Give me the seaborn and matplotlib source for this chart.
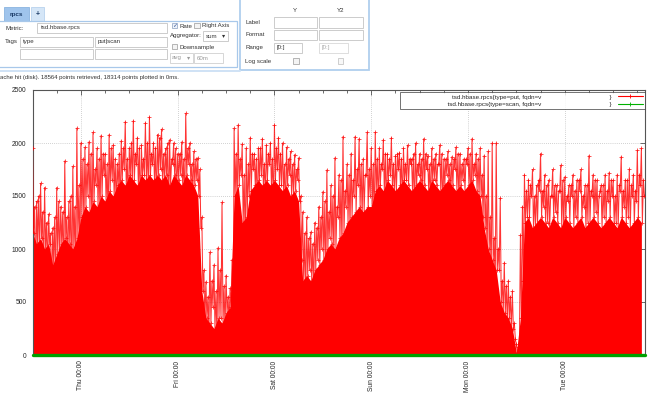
import numpy as np
import pandas as pd
import matplotlib
matplotlib.use("Agg")
import matplotlib.pyplot as plt
import seaborn as sns
from matplotlib.patches import Rectangle
from matplotlib.lines import Line2D

# ---------------- data (hourly samples starting Wed 12:00) ----------------
hours = list(range(152))

# spike tops on the hour
put_peaks = (
    [1950, 1450, 1620, 1580, 1330, 1200, 1580, 1400, 1830, 1450, 1780, 2140]
    + [2000, 1960, 2010, 2100, 1950, 2070, 1900, 2080, 1980, 1800,
       2020, 2200, 1950, 2210, 2050, 1980, 2190, 2245, 2000, 2080,
       2130, 1950, 2030, 2000, 1900, 2010, 2280, 2000, 1920, 1860]
    + [1300, 690, 970, 850, 1010, 1440, 750, 630]
    + [2140, 2170, 1990, 1950, 2050, 1900, 1950, 2040, 1980, 2000,
       2170, 2050, 2000, 1960, 1920, 1890, 1860]
    + [1350, 1300, 1160, 1250, 1400, 1540, 1745, 1600, 1860, 1700,
       2060, 1800, 1900, 2060, 2040, 1850, 2100, 1950]
    + [2100, 1950, 2030, 1900, 2050, 1880, 1910, 1950, 1980, 1850,
       2000, 1900, 2040, 1880, 1950, 1900, 1980, 1850, 1920, 1870,
       1960, 1900, 1850, 1950, 2040, 1900, 1950, 1880, 1920, 2000]
    + [2000, 1480, 870, 700, 600, 100, 1130]
    + [1700, 1650, 1750, 1600, 1900, 1700, 1650, 1750, 1600, 1790,
       1680, 1600, 1700, 1650, 1750, 1600, 1880, 1700, 1650, 1600,
       1700, 1720, 1650, 1700, 1870, 1650, 1750, 1700, 1930, 1950]
)

# spike tops at half past
put_peaks_half = (
    [1400, 1500, 1350, 1250, 1150, 1300, 1450, 1350, 1300, 1500, 1400, 1600]
    + [1850, 1800, 1900, 1750, 1850, 1900, 1800, 1950, 1850, 1900,
       1950, 1850, 2000, 1900, 1950, 1850, 2000, 1900, 1950, 2050,
       1900, 2000, 1850, 1950, 1900, 1850, 1950, 1800, 1850, 1750]
    + [800, 550, 700, 600, 800, 650, 550, 900]
    + [1900, 1850, 1700, 1800, 1900, 1850, 1950, 1800, 1900, 1850,
       1950, 1900, 1800, 1850, 1800, 1750, 1500]
    + [1150, 1100, 1050, 1200, 1300, 1450, 1350, 1500, 1400, 1650,
       1550, 1700, 1650, 1750, 1800, 1700, 1750, 1800]
    + [1850, 1800, 1900, 1850, 1800, 1900, 1850, 1800, 1850, 1900,
       1800, 1850, 1900, 1800, 1850, 1800, 1900, 1850, 1800, 1850,
       1900, 1800, 1850, 1900, 1800, 1850, 1700, 1500, 1300, 1100]
    + [1000, 700, 650, 550, 300, 80, 1400]
    + [1550, 1600, 1500, 1650, 1550, 1600, 1500, 1600, 1550, 1650,
       1500, 1600, 1550, 1650, 1500, 1600, 1550, 1650, 1500, 1600,
       1550, 1650, 1500, 1600, 1550, 1650, 1600, 1550, 1700, 1650]
)

# lows at quarter to
put_dips = (
    [600, 900, 700, 800, 500, 650, 900, 700, 850, 600, 750, 900]
    + [1200, 1500, 1100, 1600, 1300, 1700, 1250, 1650, 1400, 1300,
       1750, 1350, 1600, 1800, 1300, 1700, 1500, 1800, 1400, 1750,
       1600, 1300, 1800, 1500, 1700, 1400, 1800, 1500, 1650, 1200]
    + [300, 200, 450, 150, 350, 250, 300, 200]
    + [1400, 1700, 1000, 1500, 1750, 1300, 1700, 1500, 1800, 1400,
       1750, 1600, 1300, 1700, 1500, 1650, 900]
    + [500, 800, 600, 900, 1000, 700, 1100, 900, 1300, 1000,
       1400, 1200, 1500, 1600, 1300, 1700, 1500, 1200]
    + [1400, 1750, 1300, 1700, 1500, 1750, 1400, 1650, 1800, 1300,
       1700, 1500, 1750, 1400, 1650, 1800, 1350, 1700, 1500, 1750,
       1450, 1650, 1800, 1300, 1700, 1500, 1300, 900, 700, 600]
    + [800, 400, 300, 250, 150, 50, 700]
    + [1300, 1500, 1200, 1550, 1400, 1250, 1500, 1350, 1550, 1200,
       1450, 1500, 1300, 1550, 1400, 1250, 1500, 1350, 1550, 1300,
       1450, 1500, 1250, 1550, 1400, 1300, 1500, 1450, 1600, 1500]
)

# level below which the dense put samples look solid (also the quarter-past lows)
put_core = (
    [1150, 1050, 1100, 1000, 1050, 850, 950, 1050, 1100, 1050, 1000, 1100]
    + [1300, 1400, 1350, 1450, 1400, 1500, 1450, 1550, 1500, 1600,
       1650, 1600, 1700, 1650, 1600, 1700, 1650, 1700, 1650, 1700,
       1650, 1700, 1600, 1700, 1650, 1600, 1700, 1650, 1600, 1500]
    + [600, 350, 300, 250, 350, 300, 400, 450]
    + [1500, 1600, 1250, 1300, 1550, 1600, 1650, 1600, 1650, 1600,
       1650, 1600, 1550, 1600, 1500, 1550, 1450]
    + [700, 750, 700, 800, 850, 900, 1000, 1050, 1000, 1100,
       1150, 1250, 1300, 1350, 1400, 1350, 1400, 1400]
    + [1550, 1600, 1550, 1650, 1600, 1550, 1600, 1650, 1600, 1550,
       1600, 1650, 1600, 1550, 1650, 1600, 1550, 1600, 1650, 1600,
       1550, 1600, 1550, 1600, 1650, 1550, 1500, 1200, 1000, 900]
    + [800, 500, 400, 350, 250, 20, 350]
    + [1250, 1300, 1200, 1250, 1300, 1250, 1200, 1300, 1250, 1200,
       1300, 1250, 1200, 1250, 1300, 1200, 1250, 1300, 1250, 1200,
       1250, 1300, 1250, 1200, 1300, 1250, 1200, 1250, 1300, 1250]
)

scan_hours = [0, 12, 24, 36, 48, 60, 72, 84, 96, 108, 120, 132, 144, 151.9]
scan_values = [0, 0, 0, 0, 0, 0, 0, 0, 0, 0, 0, 0, 0, 0]

day_ticks = [12, 36, 60, 84, 108, 132]
day_labels = ["Thu 00:00", "Fri 00:00", "Sat 00:00", "Sun 00:00", "Mon 00:00", "Tue 00:00"]
six_hour_ticks = [6, 18, 24, 30, 42, 48, 54, 66, 72, 78, 90, 96, 102, 114,
                  120, 126, 138, 144, 150]
y_ticks = [0, 500, 1000, 1500, 2000, 2500]

put_label = "tsd.hbase.rpcs{type=put, fqdn=v"
scan_label = "tsd.hbase.rpcs{type=scan, fqdn=v"

assert len(put_peaks) == len(hours) == len(put_dips) == len(put_core) == len(put_peaks_half)

# ---------------- figure ----------------
sns.set_style("white")
plt.rcParams["font.family"] = ["Liberation Sans", "DejaVu Sans"]

W, H = 650, 399
fig = plt.figure(figsize=(6.5, 3.99), dpi=100)
fig.patch.set_facecolor("white")

ax = fig.add_axes([32.5 / W, 1 - 355 / H, (645 - 32.5) / W, 265 / H])

h = np.asarray(hours, dtype=float)
put_df = pd.DataFrame({
    "t": np.column_stack([h, h + 0.25, h + 0.5, h + 0.75]).ravel(),
    "v": np.column_stack([put_peaks, put_core, put_peaks_half, put_dips]).ravel(),
})
scan_df = pd.DataFrame({"t": scan_hours, "v": scan_values})

ax.fill_between(h, 0, put_core, color="#ff0000", lw=0, zorder=2)
sns.lineplot(data=put_df, x="t", y="v", sort=False, estimator=None, ax=ax,
             color="#ff0000", lw=0.75, alpha=0.8, marker="+", markersize=3.2,
             markeredgewidth=0.6, markeredgecolor="#ff0000", zorder=3)
sns.lineplot(data=scan_df, x="t", y="v", sort=False, estimator=None, ax=ax,
             color="#00a000", lw=2.4, zorder=4, clip_on=False)

ax.set_xlim(0, 151.9)
ax.set_ylim(0, 2500)
ax.set_xlabel("")
ax.set_ylabel("")
ax.set_xticks(day_ticks)
ax.set_xticklabels(day_labels, rotation=90, fontsize=4.8)
ax.set_xticks(six_hour_ticks, minor=True)
ax.set_yticks(y_ticks)
ax.set_yticklabels([str(v) for v in y_ticks], fontsize=4.8)
ax.tick_params(axis="both", which="major", direction="in", length=3.5,
               width=0.5, top=True, right=True, color="#333333")
ax.tick_params(axis="x", which="major", pad=4)
ax.tick_params(axis="y", which="major", pad=4.5)
ax.tick_params(axis="x", which="minor", direction="in", length=2.5,
               width=0.5, top=True, bottom=True, color="#333333")
ax.grid(True, which="major", color="#a8a8a8", linestyle=(0, (1, 2)), lw=0.5)
ax.set_axisbelow(True)
for s in ax.spines.values():
    s.set_color("#555555")
    s.set_linewidth(0.8)

handles = [
    Line2D([], [], color="#ff0000", lw=0.8, marker="+", markersize=3.5, markeredgewidth=0.6),
    Line2D([], [], color="#00b000", lw=0.8, marker="+", markersize=3.5, markeredgewidth=0.6),
]
leg = ax.legend(handles, [" " * 28 + put_label + " " * 39 + "}",
                          " " * 26 + scan_label + " " * 39 + "}"],
                loc="upper right", bbox_to_anchor=(1.0, 0.992), markerfirst=False,
                fontsize=4.5, frameon=True, fancybox=False, borderpad=0.35,
                handlelength=4.0, handletextpad=1.0, labelspacing=0.3,
                borderaxespad=0.0)
leg.get_frame().set_edgecolor("#333333")
leg.get_frame().set_linewidth(0.6)
leg.set_zorder(10)

# ---------------- surrounding query UI ----------------
UI = 4.4
TXT = "#333333"
BORDER = "#c4c4c4"


def rect(x0, y0, x1, y1, fc="white", ec=BORDER, lw=0.6, z=1):
    fig.add_artist(Rectangle((x0 / W, 1 - y1 / H), (x1 - x0) / W, (y1 - y0) / H,
                             transform=fig.transFigure, facecolor=fc,
                             edgecolor=ec, linewidth=lw, zorder=z))


def txt(x, y, s, size=UI, color=TXT, ha="left", weight="normal", family=None):
    kw = {}
    if family:
        kw["family"] = family
    fig.text(x / W, 1 - y / H, s, ha=ha, va="center", fontsize=size,
             color=color, weight=weight, **kw)


# tabs
rect(4, 7, 29, 21, fc="#9fc4ec", ec="#8ab4e0", lw=0.6)
txt(16.5, 14.5, "rpcs", size=4.6, color="#1a3a66", ha="center", weight="bold")
rect(31, 7, 44, 21, fc="#d5e6f7", ec="#b8d2ee", lw=0.6)
txt(37.5, 14.5, "+", size=5, color="#1a3a66", ha="center", weight="bold")

# left query panel
rect(-2, 21, 237, 67, fc="white", ec="#a8c8ea", lw=0.9)
fig.add_artist(Line2D([0, 240 / W], [1 - 71 / H, 1 - 71 / H], transform=fig.transFigure,
                      color="#cfe2f5", lw=1.4))
txt(5, 28, "Metric:")
rect(37, 23, 167, 33)
txt(41, 28, "tsd.hbase.rpcs")
txt(5, 42, "Tags")
rect(20, 37, 93, 47)
txt(23, 42, "type")
rect(95, 37, 167, 47)
txt(98, 42, "put|scan")
rect(20, 49, 93, 59)
rect(95, 49, 167, 59)

rect(172, 23, 177, 28, fc="#eef3fa", ec="#8aa0c0", lw=0.5)
txt(174.5, 25.2, "\u2713", size=4.5, color="#3a5a9a", ha="center", family="DejaVu Sans")
txt(179, 26, "Rate")
rect(194, 23, 199.5, 28, fc="#f4f4f4", ec="#9a9a9a", lw=0.5)
txt(201.5, 26, "Right Axis")
txt(170, 35, "Aggregator:")
rect(203, 31, 228, 41)
txt(205.5, 36, "sum")
txt(224, 36, "\u25be", size=4.5, color="#333333", ha="center", family="DejaVu Sans")
rect(172, 44, 177, 49, fc="#f4f4f4", ec="#9a9a9a", lw=0.5)
txt(179, 47, "Downsample")
rect(170, 53, 193, 63, ec="#d0d0d0")
txt(172, 58, "avg", color="#9a9a9a")
txt(189, 58, "\u25be", size=4.5, color="#9a9a9a", ha="center", family="DejaVu Sans")
rect(194, 53, 223, 63, ec="#d0d0d0")
txt(196.5, 58, "60m", color="#9a9a9a")

# right axis panel
rect(239.5, -2, 369, 70, fc="white", ec="#b0cfee", lw=1.3)
txt(295, 11, "Y", ha="center")
txt(341, 11, "Y2", ha="center")
txt(245, 23, "Label")
rect(274, 17, 317, 28)
rect(319, 17, 363, 28)
txt(245, 35, "Format")
rect(274, 29.5, 317, 40)
rect(319, 29.5, 363, 40)
txt(245, 48, "Range")
rect(274, 42.5, 302, 53)
txt(277, 48, "[0:]")
rect(319, 42.5, 348, 53, ec="#d8d8d8")
txt(322, 48, "[0:]", color="#aaaaaa")
txt(245, 61, "Log scale")
rect(293, 58, 298.5, 63.5, fc="#f4f4f4", ec="#9a9a9a", lw=0.5)
rect(338, 58, 343.5, 63.5, fc="#f8f8f8", ec="#bdbdbd", lw=0.5)

# status line
txt(0, 77, "ache hit (disk). 18564 points retrieved, 18314 points plotted in 0ms.", size=4.3)

fig.savefig("out.png", dpi=100, facecolor="white")
